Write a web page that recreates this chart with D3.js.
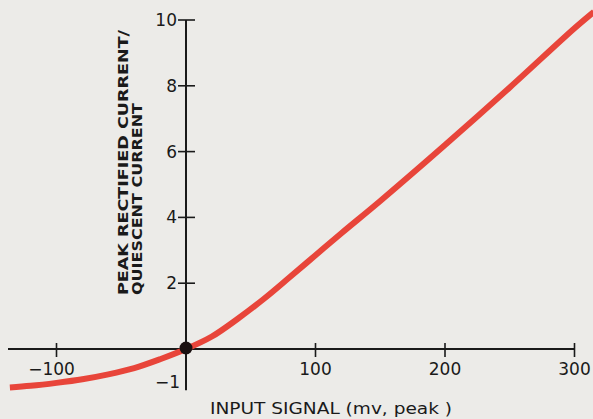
<!DOCTYPE html>
<html><head><meta charset="utf-8">
<script src="https://cdn.jsdelivr.net/npm/d3@7"></script>
<style>body{margin:0;background:#ecebe8;}svg{display:block;}</style>
</head><body>
<svg id="c" width="593" height="419"></svg>
<script>
const inputSignal = [-136,-120,-100,-80,-60,-40,-20,0,20,40,60,80,100,120,150,200,250,300,315];
const currentRatio = [-1.17,-1.12,-1.03,-0.92,-0.77,-0.58,-0.31,0,0.38,0.92,1.52,2.18,2.85,3.52,4.5,6.2,7.95,9.75,10.25];
const xTicks = [-100,100,200,300];
const yTicks = [2,4,6,8,10];
const yTitle = ["PEAK RECTIFIED CURRENT/","QUIESCENT CURRENT"];
const xTitle = "INPUT SIGNAL (mv, peak )";

const svg = d3.select("#c");
const x = d3.scaleLinear().domain([0,300]).range([186,574.5]);
const y = d3.scaleLinear().domain([0,10]).range([349,20]);
const font = "'DejaVu Sans', sans-serif";
const ink = "#1a1a1a";

// axes lines
svg.append("line").attr("x1",8).attr("x2",x(300)).attr("y1",y(0)).attr("y2",y(0))
  .attr("stroke",ink).attr("stroke-width",2);
svg.append("line").attr("x1",x(0)).attr("x2",x(0)).attr("y1",y(10)).attr("y2",y(-1.25))
  .attr("stroke",ink).attr("stroke-width",2);

// x ticks
const xg = svg.append("g");
xTicks.forEach(t=>{
  xg.append("line").attr("x1",x(t)).attr("x2",x(t)).attr("y1",y(0)-6).attr("y2",y(0)+8)
    .attr("stroke",ink).attr("stroke-width",1.6);
  xg.append("text").attr("x",x(t)+(t<0?-5:0)).attr("y",y(0)+26).attr("text-anchor","middle")
    .attr("font-family",font).attr("font-size",17).attr("fill",ink)
    .text(t<0?"\u2212"+Math.abs(t):t);
});
// y ticks
const yg = svg.append("g");
yTicks.forEach(t=>{
  yg.append("line").attr("x1",x(0)-8).attr("x2",x(0)+9).attr("y1",y(t)).attr("y2",y(t))
    .attr("stroke",ink).attr("stroke-width",1.6);
  yg.append("text").attr("x",x(0)-9).attr("y",y(t)+6).attr("text-anchor","end")
    .attr("font-family",font).attr("font-size",17).attr("fill",ink).text(t);
});
svg.append("text").attr("x",x(0)-6).attr("y",y(-1)+6).attr("text-anchor","end")
  .attr("font-family",font).attr("font-size",17).attr("fill",ink).text("\u22121");

// curve
const line = d3.line().x((d,i)=>x(inputSignal[i])).y((d,i)=>y(currentRatio[i])).curve(d3.curveCatmullRom);
svg.append("path").datum(currentRatio).attr("d",line).attr("fill","none")
  .attr("stroke","#e8453a").attr("stroke-width",6).attr("stroke-linecap","butt");

// origin dot
svg.append("circle").attr("cx",x(0)).attr("cy",y(0)-1).attr("r",6.5).attr("fill","#1a1010");

// titles
svg.append("text").attr("transform","translate(128,295) rotate(-90)")
  .attr("font-family",font).attr("font-size",14).attr("font-weight","bold").attr("fill",ink)
  .attr("textLength",265).attr("lengthAdjust","spacingAndGlyphs").text(yTitle[0]);
svg.append("text").attr("transform","translate(142,295) rotate(-90)")
  .attr("font-family",font).attr("font-size",14).attr("font-weight","bold").attr("fill",ink)
  .attr("textLength",192).attr("lengthAdjust","spacingAndGlyphs").text(yTitle[1]);
svg.append("text").attr("x",210).attr("y",414)
  .attr("font-family",font).attr("font-size",16).attr("fill",ink)
  .attr("textLength",242).attr("lengthAdjust","spacingAndGlyphs").text(xTitle);
</script>
</body></html>
